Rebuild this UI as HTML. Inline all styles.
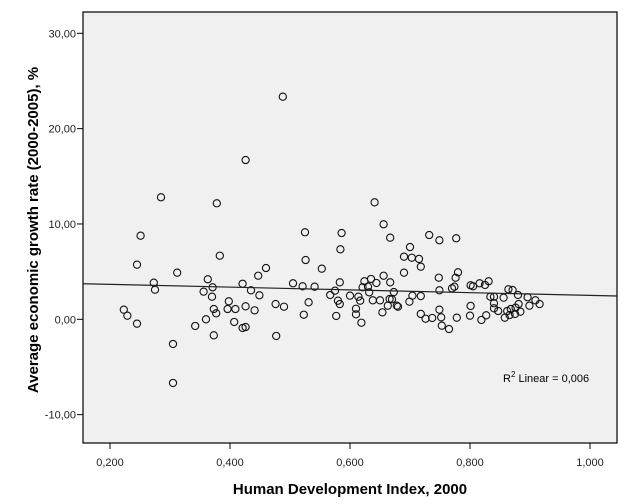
<!DOCTYPE html>
<html><head><meta charset="utf-8"><style>
html,body{margin:0;padding:0;background:#fff;}
svg{display:block;font-family:"Liberation Sans",Arial,sans-serif;}
</style></head><body>
<svg id="chart" width="629" height="504" viewBox="0 0 629 504">
<rect x="83" y="12" width="534" height="431" fill="#f0f0f0" stroke="#000" stroke-width="1.2"/>
<g id="yaxis"></g>
<g id="xaxis"></g>
<g id="points"></g>
<g id="fit"></g>
<text x="503" y="382" font-size="11" fill="#000">R<tspan font-size="8" dy="-5">2</tspan><tspan dy="5"> Linear = 0,006</tspan></text>
<text x="350" y="494" font-size="15" font-weight="bold" text-anchor="middle" fill="#000">Human Development Index, 2000</text>
<text transform="translate(38,230) rotate(-90)" font-size="15" font-weight="bold" text-anchor="middle" fill="#000">Average economic growth rate (2000-2005), %</text>
</svg>
<script>
const xTicks=[0.2,0.4,0.6,0.8,1.0];
const xTickLabels=["0,200","0,400","0,600","0,800","1,000"];
const yTicks=[30,20,10,0,-10];
const yTickLabels=["30,00","20,00","10,00","0,00","-10,00"];
const hdi=[0.488,0.426,0.285,0.378,0.251,0.525,0.586,0.584,0.383,0.245,0.526,0.460,0.553,0.312,0.447,0.363,0.273,0.421,0.505,0.583,0.275,0.371,0.521,0.541,0.356,0.435,0.575,0.370,0.449,0.567,0.600,0.398,0.476,0.490,0.531,0.580,0.583,0.223,0.373,0.396,0.409,0.426,0.441,0.229,0.377,0.523,0.577,0.245,0.360,0.407,0.342,0.421,0.426,0.373,0.477,0.305,0.305,
0.641,0.656,0.667,0.732,0.749,0.777,0.700,0.690,0.703,0.715,0.718,0.690,0.780,0.776,0.748,0.656,0.624,0.635,0.644,0.667,0.621,0.630,0.632,0.673,0.749,0.770,0.774,0.801,0.805,0.816,0.825,0.831,0.864,0.871,0.880,0.614,0.617,0.638,0.650,0.666,0.670,0.704,0.699,0.718,0.834,0.840,0.856,0.896,0.909,0.916,0.899,0.610,0.663,0.678,0.680,0.840,0.840,0.847,0.881,0.876,0.868,0.862,0.884,0.610,0.654,0.749,0.801,0.718,0.726,0.737,0.752,0.778,0.800,0.827,0.819,0.858,0.866,0.875,0.619,0.753,0.765];
const growth=[23.35,16.71,12.80,12.17,8.77,9.13,9.05,7.34,6.67,5.73,6.22,5.38,5.31,4.89,4.57,4.20,3.84,3.73,3.78,3.88,3.10,3.36,3.46,3.42,2.90,3.04,3.00,2.37,2.52,2.55,2.48,1.89,1.60,1.32,1.78,1.95,1.60,1.01,1.08,1.08,1.08,1.36,0.94,0.38,0.63,0.48,0.35,-0.46,0.00,-0.28,-0.70,-0.91,-0.81,-1.68,-1.75,-2.59,-6.68,
12.27,9.97,8.56,8.84,8.29,8.50,7.58,6.57,6.46,6.33,5.52,4.89,4.93,4.36,4.36,4.57,3.99,4.23,3.81,3.88,3.36,3.42,2.83,2.86,3.04,3.25,3.42,3.57,3.46,3.78,3.60,3.99,3.15,3.07,2.55,2.37,1.95,1.99,1.99,2.13,2.10,2.48,1.85,2.44,2.37,2.37,2.27,2.31,1.99,1.60,1.43,1.11,1.43,1.43,1.32,1.68,1.15,0.87,1.60,1.22,1.08,0.87,0.80,0.52,0.73,1.01,1.40,0.56,0.06,0.14,0.21,0.17,0.38,0.42,-0.07,0.17,0.45,0.56,-0.36,-0.67,-1.02];
const fitIntercept=3.955;
const fitSlope=-1.449;
const xDomain=[0.155,1.045];

const NS="http://www.w3.org/2000/svg";
function sx(v){return 110+(v-0.2)*600;}
function sy(v){return 319.3-v*9.533;}
function mk(tag,attrs,parent){const e=document.createElementNS(NS,tag);for(const k in attrs)e.setAttribute(k,attrs[k]);parent.appendChild(e);return e;}
const ya=document.getElementById('yaxis'),xa=document.getElementById('xaxis'),pg=document.getElementById('points'),fg=document.getElementById('fit');
yTicks.forEach((t,i)=>{
 const l=mk('line',{x1:77,x2:83,y1:sy(t),y2:sy(t),stroke:'#000'},ya);
 
 
 const tx=mk('text',{x:76,y:sy(t)+4,'font-size':11,'text-anchor':'end',fill:'#222'},ya);
 tx.textContent=yTickLabels[i];
 
 
});
xTicks.forEach((t,i)=>{
 const l=mk('line',{x1:sx(t),x2:sx(t),y1:443,y2:449,stroke:'#000'},xa);
 
 
 const tx=mk('text',{x:sx(t),y:466,'font-size':11,'text-anchor':'middle',fill:'#222'},xa);
 tx.textContent=xTickLabels[i];
 
 
});
hdi.forEach((h,i)=>{
 const c=mk('circle',{cx:sx(h),cy:sy(growth[i]),r:3.6,fill:'none',stroke:'#111','stroke-width':1.1},pg);
 
 
});
const fl=mk('line',{x1:sx(xDomain[0]),y1:sy(fitIntercept+fitSlope*xDomain[0]),x2:sx(xDomain[1]),y2:sy(fitIntercept+fitSlope*xDomain[1]),stroke:'#222','stroke-width':1.2},fg);


</script>
</body></html>
